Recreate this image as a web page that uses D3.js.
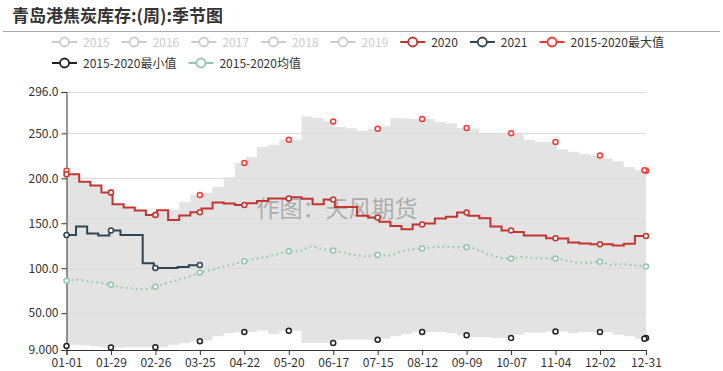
<!DOCTYPE html>
<html><head><meta charset="utf-8">
<script src="https://cdn.jsdelivr.net/npm/d3@7"></script>
<style>
body{margin:0;background:#fff}
svg{display:block}
text{font-family:'Microsoft YaHei','Noto Sans CJK SC',sans-serif}
</style>
</head><body>
<svg id="c" width="723" height="371"></svg>
<script>
// ---------------- data ----------------
const title = "青岛港焦炭库存:(周):季节图";
const watermark = "作图：天风期货";
const legendNames = ["2015","2016","2017","2018","2019","2020","2021","2015-2020最大值","2015-2020最小值","2015-2020均值"];
const inactiveNames = ["2015","2016","2017","2018","2019"];
const yTicks = [9, 50, 100, 150, 200, 250, 296];
const xTickLabels = ["01-01","01-29","02-26","03-25","04-22","05-20","06-17","07-15","08-12","09-09","10-07","11-04","12-02","12-31"];

const fmt = d3.timeFormat("%m-%d");
// weekly dates (01-01 then every Thursday of 2020)
const weekDates = ["01-01"].concat(d3.range(53).map(k => fmt(d3.timeDay.offset(new Date(2020,0,2), 7*k))));

const s2020 = [204.4, 204.4, 196.3, 191.9, 184.1, 171.1, 167.4, 164.1, 159.3, 164.4, 153.7,
  158.5, 162.2, 166.3, 173.0, 172.0, 170.4, 172.2, 174.8, 177.4, 177.6, 179.0, 177.2, 171.2,
  176.4, 168.2, 168.2, 158.3, 156.5, 151.6, 146.8, 143.4, 148.6, 149.7, 155.3, 157.1, 162.0,
  158.3, 155.5, 146.5, 142.0, 140.4, 136.4, 136.4, 133.2, 133.0, 128.5, 127.4, 126.7, 126.7,
  125.2, 127.2, 135.9, 135.9];

const sMax = [208.3, 204.4, 196.3, 191.9, 184.1, 171.1, 167.4, 164.1, 159.3, 164.4, 165.0,
  173.8, 181.5, 183.7, 190.3, 201.1, 217.0, 223.7, 234.8, 237.4, 243.0, 243.0, 268.9, 267.0,
  263.3, 257.2, 255.8, 253.0, 255.0, 258.0, 267.0, 266.5, 266.0, 266.0, 262.7, 261.0, 256.0,
  255.5, 250.4, 250.0, 250.0, 250.0, 242.5, 240.5, 240.5, 232.3, 229.5, 227.0, 225.5, 222.0,
  219.0, 212.5, 209.0, 208.3];

const sMin = [13.5, 14.9, 14.2, 13.1, 11.8, 11.5, 12.0, 12.0, 12.0, 12.0, 14.9, 16.8, 18.6,
  19.5, 24.2, 27.9, 29.0, 29.0, 30.8, 26.8, 30.4, 30.4, 16.8, 16.8, 16.8, 20.5, 20.5, 20.5,
  20.5, 21.5, 24.2, 26.8, 29.0, 29.0, 29.0, 27.9, 25.3, 23.1, 23.1, 22.4, 22.4, 26.0, 28.6,
  28.6, 29.7, 29.7, 27.9, 29.0, 29.0, 29.0, 26.0, 24.2, 21.6, 22.4];

const dates2021 = ["01-01","01-07","01-14","01-21","01-28","02-04","02-11","02-18","02-25","03-04","03-11","03-18","03-25"];
const s2021 = [137.0, 146.5, 138.6, 136.4, 141.8, 137.0, 137.0, 105.5, 100.3, 100.3, 101.3, 103.2, 103.5];

const avgDates = d3.range(0, 365, 7).map(d => fmt(d3.timeDay.offset(new Date(2020,0,1), d))).concat(["12-31"]);
const sAvg = [85.9, 87.2, 85.4, 83.8, 81.5, 78.5, 77.5, 76.6, 79.3, 83.3, 87.0, 90.6, 94.8,
  98.0, 101.3, 104.4, 107.8, 110.5, 112.6, 115.8, 118.9, 119.0, 124.2, 121.6, 119.6, 117.3,
  114.6, 113.2, 114.8, 114.0, 118.3, 120.8, 121.9, 123.3, 124.0, 123.3, 123.3, 120.6, 115.2,
  111.9, 110.7, 112.5, 111.4, 110.8, 110.7, 108.5, 106.4, 105.9, 107.3, 103.8, 104.5, 103.4,
  102.2, 101.9];

// ---------------- styles ----------------
const colors = {
  "2015":"#ccc","2016":"#ccc","2017":"#ccc","2018":"#ccc","2019":"#ccc",
  "2020":"#c23531","2021":"#2f4554",
  "2015-2020最大值":"#ff3535","2015-2020最小值":"#222","2015-2020均值":"#91c7ae"
};

const svg = d3.select("#c");
const parse = d3.timeParse("%Y-%m-%d");
const start = new Date(2020,0,1);
const dayOf = md => d3.timeDay.count(start, parse("2020-" + md));
const lastDay = dayOf("12-31");

const x = d3.scaleLinear().domain([0, lastDay]).range([66.5, 646]);
const y = d3.scaleLinear().domain([9, 296]).range([350, 92]);

const pts = (dates, vals) => dates.map((d, i) => ({d: dayOf(d), v: vals[i]}));
const p2020 = pts(weekDates, s2020);
const pMax = pts(weekDates, sMax);
const pMin = pts(weekDates, sMin);
const p2021 = pts(dates2021, s2021);
const pAvg = pts(avgDates, sAvg);

const valueAt = (p, day) => { let v = null; for (const q of p) { if (q.d <= day) v = q.v; } return v; };

// ---------------- title ----------------
svg.append("text").attr("x", 12).attr("y", 22).text(title)
  .attr("font-size", 17).attr("font-weight", "bold").attr("fill", "#333");
svg.append("line").attr("x1", 3).attr("x2", 720).attr("y1", 31.5).attr("y2", 31.5)
  .attr("stroke", "#aaa").attr("stroke-width", 1);

// ---------------- band ----------------
const band = d3.area().x(d => x(d.d)).y0((d, i) => y(pMin[i].v)).y1(d => y(d.v)).curve(d3.curveStepAfter);
svg.append("path").datum(pMax).attr("d", band).attr("fill", "#e3e3e3");

// ---------------- grid ----------------
const fy = d3.format(".4r");
svg.append("g").selectAll("line").data(yTicks.filter(t => t !== 9)).join("line")
  .attr("x1", x(0)).attr("x2", x(lastDay)).attr("y1", d => Math.round(y(d)) + 0.5).attr("y2", d => Math.round(y(d)) + 0.5)
  .attr("stroke", "#dcdcdc").attr("stroke-width", 1);

// watermark
svg.append("text").attr("x", 337).attr("y", 217).attr("text-anchor", "middle")
  .attr("font-size", 23).attr("fill", "#9a9a9a").attr("fill-opacity", 0.75).text(watermark);

// ---------------- axes ----------------
const tickDays = xTickLabels.map(dayOf);
const yAxis = svg.append("g").attr("transform", `translate(${x(0)},0)`)
  .call(d3.axisLeft(y).tickValues(yTicks).tickFormat(fy).tickSize(5).tickPadding(3));
const xAxis = svg.append("g").attr("transform", `translate(0,${y(9)})`)
  .call(d3.axisBottom(x).tickValues(tickDays).tickFormat((d, i) => xTickLabels[i]).tickSize(5).tickPadding(3));
[xAxis, yAxis].forEach(a => {
  a.select(".domain").attr("stroke", "#333");
  a.selectAll(".tick line").attr("stroke", "#333");
  a.selectAll(".tick text").attr("fill", "#333").attr("font-size", 12)
    .attr("font-family", "'Microsoft YaHei','Noto Sans CJK SC',sans-serif");
});

// ---------------- lines ----------------
const stepLine = d3.line().x(d => x(d.d)).y(d => y(d.v)).curve(d3.curveStepAfter);
const smoothLine = d3.line().x(d => x(d.d)).y(d => y(d.v)).curve(d3.curveMonotoneX);

svg.append("path").datum(pAvg).attr("d", smoothLine).attr("fill", "none")
  .attr("stroke", colors["2015-2020均值"]).attr("stroke-width", 2).attr("stroke-dasharray", "2,3").attr("opacity", 0.85);
svg.append("path").datum(p2021).attr("d", stepLine).attr("fill", "none")
  .attr("stroke", colors["2021"]).attr("stroke-width", 2);
svg.append("path").datum(p2020).attr("d", stepLine).attr("fill", "none")
  .attr("stroke", colors["2020"]).attr("stroke-width", 2);

// ---------------- markers ----------------
function markers(p, days, color) {
  svg.append("g").selectAll("circle").data(days.map(d => ({d, v: valueAt(p, d)}))).join("circle")
    .attr("cx", d => x(d.d)).attr("cy", d => y(d.v)).attr("r", 2.5)
    .attr("fill", "#fff").attr("stroke", color).attr("stroke-width", 1.5);
}
markers(pAvg, tickDays, colors["2015-2020均值"]);
markers(pMin, tickDays.concat([lastDay - 1]), colors["2015-2020最小值"]);
markers(pMax, tickDays.concat([lastDay - 1]), colors["2015-2020最大值"]);
markers(p2021, tickDays.filter(d => d <= d3.max(p2021, q => q.d)), colors["2021"]);
markers(p2020, tickDays, colors["2020"]);

// ---------------- legend ----------------
const legend = svg.append("g");
let lx = 52, row = 0;
const rowY = [42, 63];
legendNames.forEach((name, i) => {
  if (i === 8) { row = 1; lx = 52; }
  const off = inactiveNames.includes(name);
  const c = colors[name];
  const g = legend.append("g").attr("transform", `translate(${lx},${rowY[row]})`);
  g.append("line").attr("x1", 0).attr("x2", 25).attr("y1", 0).attr("y2", 0).attr("stroke", c).attr("stroke-width", 2);
  g.append("circle").attr("cx", 12.5).attr("cy", 0).attr("r", 4.5).attr("fill", "#fff").attr("stroke", c).attr("stroke-width", 1.8);
  const t = g.append("text").attr("x", 31).attr("y", 4.5).attr("font-size", 12)
    .attr("fill", off ? "#ccc" : "#333").text(name);
  lx += 31 + t.node().getComputedTextLength() + 12;
});
</script>
</body></html>
